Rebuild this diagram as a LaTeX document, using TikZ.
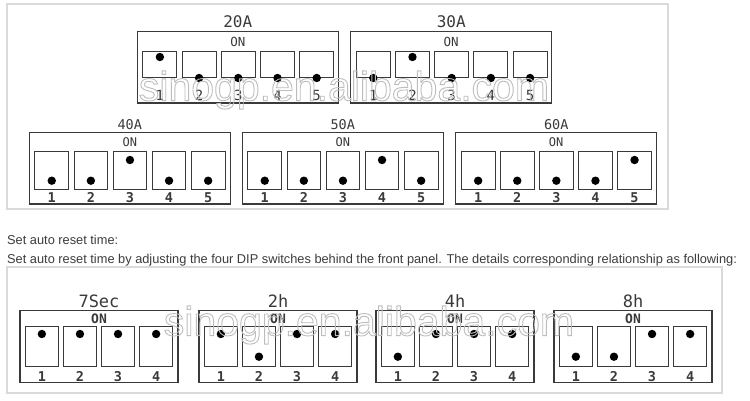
\documentclass[tikz,border=0pt]{standalone}
\usepackage{fontspec}
\setmainfont{Liberation Sans}
\newfontfamily\dipfont{DejaVu Sans Mono}
\usetikzlibrary{positioning}
\definecolor{ink}{HTML}{3A3A3A}
\definecolor{frame}{HTML}{DADADA}
\definecolor{wmark}{HTML}{BDBDBD}
\definecolor{prose}{HTML}{3C3C3C}
\tikzset{
  bankbox/.style={draw=ink,line width=1.3pt},
  swbox/.style={draw=ink,line width=0.9pt},
  dipdot/.style={fill=black},
  banktitle/.style={font=\dipfont\titlesize,text=ink,inner sep=0pt},
  onlabel/.style={font=\dipfont\onsize,text=ink,inner sep=0pt},
  swnum/.style={font=\dipfont\numsize,text=ink,inner sep=0pt},
  panel/.style={draw=frame,line width=1.2pt},
  prose/.style={font=\fontsize{12.8}{12.8}\selectfont,text=prose,anchor=base west,inner sep=0pt},
  wmtext/.style={font=\fontsize{41}{41}\selectfont,text=wmark,inner sep=0pt},
  % geometry of each row of banks
  toprow/.code={\def\bankw{201}\def\bankh{71.3}\def\swpitch{39.2}\def\sww{34}%
    \def\swtop{19.3}\def\swh{26.3}\def\dotup{25.3}\def\dotdn{46.3}%
    \def\titley{-10}\def\ony{10}\def\numy{63.3}%
    \def\titlesize{\fontsize{16}{16}\selectfont}%
    \def\onsize{\fontsize{12.5}{12.5}\selectfont}%
    \def\numsize{\fontsize{14}{14}\selectfont}},
  midrow/.code={\def\bankw{201}\def\bankh{71.3}\def\swpitch{39.1}\def\sww{33.7}%
    \def\swtop{19}\def\swh{37.3}\def\dotup{27.3}\def\dotdn{48}%
    \def\titley{-7.7}\def\ony{9.6}\def\numy{64.6}%
    \def\titlesize{\fontsize{13.5}{13.5}\selectfont}%
    \def\onsize{\fontsize{12}{12}\selectfont}%
    \def\numsize{\bfseries\fontsize{13.5}{13.5}\selectfont}},
  botrow/.code={\def\bankw{158}\def\bankh{72}\def\swpitch{38.1}\def\sww{32.5}%
    \def\swtop{16}\def\swh{39.3}\def\dotup{23.3}\def\dotdn{46}%
    \def\titley{-9.7}\def\ony{7.6}\def\numy{66}%
    \def\titlesize{\fontsize{17}{17}\selectfont}%
    \def\onsize{\bfseries\fontsize{13}{13}\selectfont}%
    \def\numsize{\bfseries\fontsize{13.5}{13.5}\selectfont}}
}
% #2 top left corner of the bank, #3 name, #4 title, #5 switch states (1 = ON)
\newcommand{\dipbank}[5][]{%
  \begin{scope}[shift={(#2)},#1]
    \draw[bankbox] (0,0) rectangle (\bankw,\bankh);
    \node[banktitle] (#3) at (\bankw/2,\titley) {#4};
    \node[onlabel] (#3-on) at (\bankw/2,\ony) {ON};
    \foreach \s [count=\i] in {#5} {
      \pgfmathsetmacro\swx{5.6+(\i-1)*\swpitch}
      \draw[swbox] (\swx,\swtop) rectangle ++(\sww,\swh);
      \fill[dipdot] ({\swx+\sww/2},{\dotdn+\s*(\dotup-\dotdn)}) circle (4.2pt);
      \node[swnum] (#3-n\i) at ({\swx+\sww/2},\numy) {\i};
    }
  \end{scope}}
\newcommand{\hollow}[1]{\special{pdf:literal direct 1 Tr 0.9 w}#1\special{pdf:literal direct 0 Tr}}

\begin{document}
\begin{tikzpicture}[x=1pt,y=-1pt]
  \fill[white] (0,0) rectangle (750,400);
  \useasboundingbox (0,0) rectangle (750,400);
  % current setting
  \draw[panel] (7,4) rectangle (668,209);
  \dipbank[toprow]{137.3,31.7}{a20}{20A}{1,0,0,0,0}
  \dipbank[toprow]{350.7,31.7}{a30}{30A}{0,1,0,0,0}
  \dipbank[midrow]{29.3,132.7}{a40}{40A}{0,0,1,0,0}
  \dipbank[midrow]{242.3,132.7}{a50}{50A}{0,0,0,1,0}
  \dipbank[midrow]{455.7,132.7}{a60}{60A}{0,0,0,0,1}
  % reset time
  \node[prose] (hint) at (7,244) {Set auto reset time:};
  \node[prose] (howto) at (7,263) {Set auto reset time by adjusting the four DIP switches behind the front panel. The details corresponding relationship as following:};
  \draw[panel] (7,267) rectangle (722,393);
  \dipbank[botrow]{20,310.7}{t7s}{7Sec}{1,1,1,1}
  \dipbank[botrow]{199,310.7}{t2h}{2h}{1,0,1,1}
  \dipbank[botrow]{376,310.7}{t4h}{4h}{0,1,1,1}
  \dipbank[botrow]{554,310.7}{t8h}{8h}{0,0,1,1}
  % watermark
  \node[wmtext] (wm1) at (344,90) {\hollow{sinogp.en.alibaba.com}};
  \node[wmtext] (wm2) at (369,325) {\hollow{sinogp.en.alibaba.com}};
\end{tikzpicture}
\end{document}
